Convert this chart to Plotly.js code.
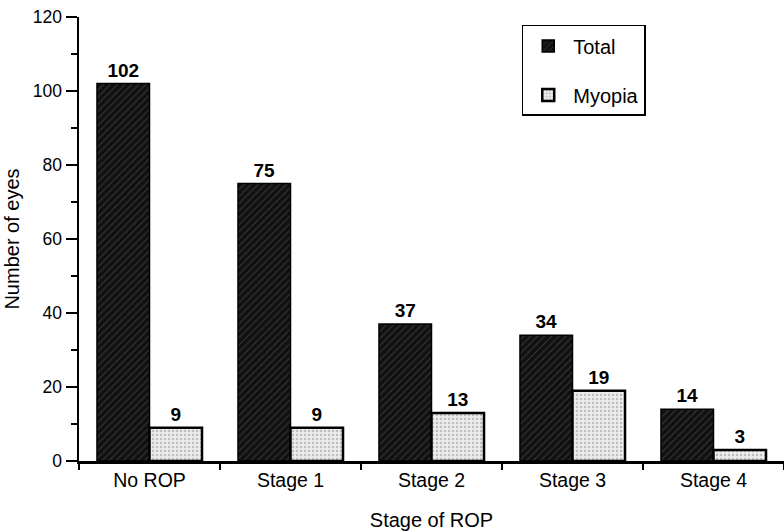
<!DOCTYPE html>
<html>
<head>
<meta charset="utf-8">
<script src="https://cdn.plot.ly/plotly-3.0.1.min.js"></script>
<style>html,body{margin:0;padding:0;background:#fff;}#chart{width:784px;height:531px;}</style>
</head>
<body>
<div id="chart"></div>
<script>
const categories = ["No ROP", "Stage 1", "Stage 2", "Stage 3", "Stage 4"];
const totalValues = [102, 75, 37, 34, 14];
const myopiaValues = [9, 9, 13, 19, 3];
const yTickVals = [0, 20, 40, 60, 80, 100, 120];
const yTickText = ["0", "20", "40", "60", "80", "100", "120"];

const fontFam = "Liberation Sans, Arial, sans-serif";

const traces = [
  {
    type: "bar",
    name: "Total",
    legendgroup: "a",
    x: categories,
    y: totalValues,
    text: totalValues.map(String),
    texttemplate: "<b>%{text}</b>",
    textposition: "outside",
    cliponaxis: false,
    textfont: {family: fontFam, size: 19, color: "#000"},
    marker: {
      color: "#111111",
      line: {color: "#000", width: 1.5},
      pattern: {shape: "/", fgcolor: "#3a3a3a", bgcolor: "#111111", size: 5, solidity: 0.2}
    }
  },
  {
    type: "bar",
    name: "Myopia",
    legendgroup: "b",
    x: categories,
    y: myopiaValues,
    text: myopiaValues.map(String),
    texttemplate: "<b>%{text}</b>",
    textposition: "outside",
    cliponaxis: false,
    textfont: {family: fontFam, size: 19, color: "#000"},
    marker: {
      color: "#ececec",
      line: {color: "#000", width: 2.5},
      pattern: {shape: ".", fgcolor: "#bdbdbd", bgcolor: "#ececec", size: 4, solidity: 0.3}
    }
  }
];

const layout = {
  width: 784,
  height: 531,
  margin: {l: 79, r: 0, t: 17, b: 70},
  paper_bgcolor: "#fff",
  plot_bgcolor: "#fff",
  barmode: "group",
  bargap: 0.255,
  bargroupgap: 0,
  showlegend: true,
  font: {family: fontFam, color: "#000", size: 18},
  legend: {
    x: 0.628, y: 0.982, xanchor: "left", yanchor: "top",
    bordercolor: "#000", borderwidth: 1.5, bgcolor: "#fff",
    font: {family: fontFam, size: 20, color: "#000"},
    tracegroupgap: 20,
    itemwidth: 40
  },
  xaxis: {
    type: "category",
    range: [-0.5, 4.5],
    showline: true, linecolor: "#000", linewidth: 2.5,
    ticks: "outside", tickson: "boundaries", ticklen: 6, tickwidth: 2.5, tickcolor: "#000",
    tickfont: {family: fontFam, size: 19.5, color: "#000"},
    showgrid: false, zeroline: false,
    title: {text: "Stage of ROP", font: {family: fontFam, size: 20, color: "#000"}, standoff: 24}
  },
  yaxis: {
    range: [0, 120],
    tickvals: yTickVals, ticktext: yTickText,
    showline: true, linecolor: "#000", linewidth: 2.5,
    ticks: "outside", ticklen: 11, tickwidth: 2.5, tickcolor: "#000",
    minor: {dtick: 10, ticks: "outside", ticklen: 6, tickwidth: 2, tickcolor: "#000", showgrid: false},
    tickfont: {family: fontFam, size: 17.5, color: "#000"},
    showgrid: false, zeroline: false,
    title: {text: "Number of eyes", font: {family: fontFam, size: 20, color: "#000"}, standoff: 8}
  }
};

Plotly.newPlot("chart", traces, layout, {displayModeBar: false, staticPlot: true});
</script>
</body>
</html>
